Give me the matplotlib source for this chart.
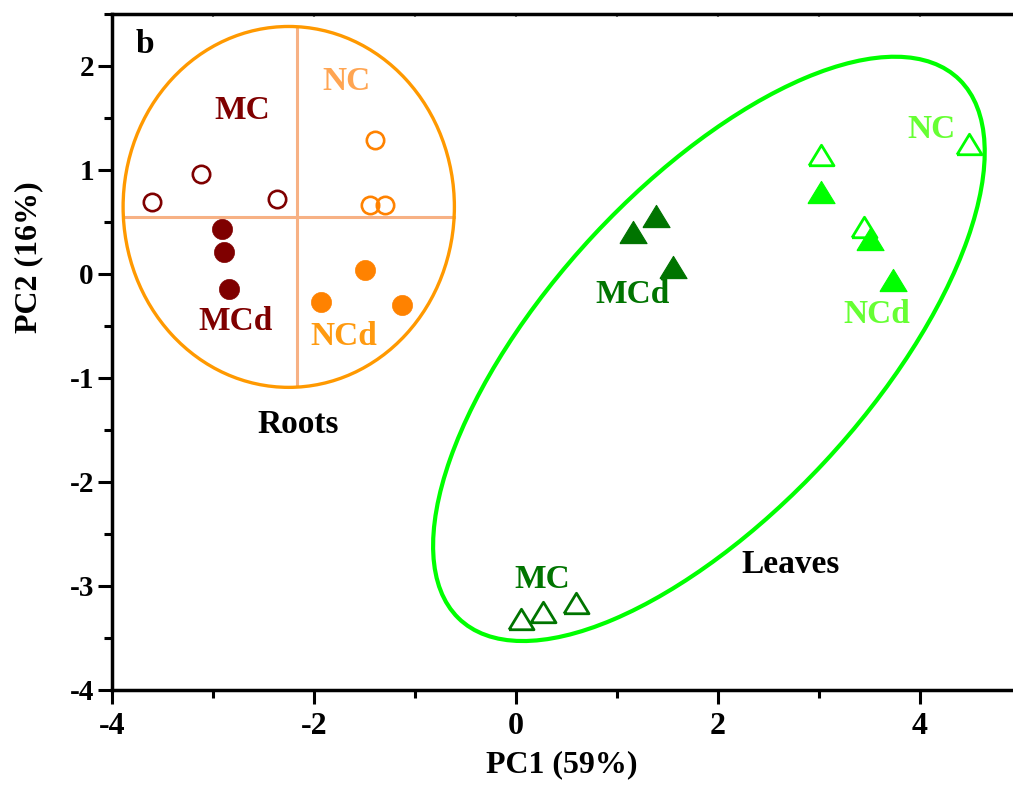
import matplotlib
matplotlib.use('Agg')
import matplotlib.pyplot as plt
from matplotlib.patches import Ellipse
from matplotlib.ticker import MultipleLocator

plt.rcParams['font.family'] = ['Liberation Serif', 'DejaVu Serif']
plt.rcParams['font.weight'] = 'bold'
plt.rcParams['axes.unicode_minus'] = False

# -----------------------------
# PCA scores
# Roots
roots_mc_x = [-3.60, -3.12, -2.37]
roots_mc_y = [0.69, 0.96, 0.72]
roots_mcd_x = [-2.91, -2.89, -2.84]
roots_mcd_y = [0.43, 0.21, -0.14]
roots_nc_x = [-1.40, -1.45, -1.30]
roots_nc_y = [1.29, 0.66, 0.66]
roots_ncd_x = [-1.50, -1.93, -1.13]
roots_ncd_y = [0.04, -0.27, -0.30]

# Leaves
leaves_mc_x = [0.05, 0.27, 0.59]
leaves_mc_y = [-3.32, -3.25, -3.16]
leaves_mcd_x = [1.16, 1.39, 1.55]
leaves_mcd_y = [0.40, 0.56, 0.07]
leaves_nc_x = [3.02, 4.49, 3.45]
leaves_nc_y = [1.14, 1.25, 0.45]
leaves_ncd_x = [3.02, 3.50, 3.73]
leaves_ncd_y = [0.79, 0.34, -0.06]

# group outlines
roots_center = (-2.25, 0.645)
roots_size = (3.28, 3.47)
roots_cross_x = -2.17
roots_cross_y = 0.55
leaves_center = (1.91, -0.72)
leaves_size = (7.17, 3.16)
leaves_angle = 46.2

dark_red = '#7f0000'
orange = '#ff8200'
dark_green = '#007400'
lime = '#00ff00'

tri = [(-1, -0.82), (1, -0.82), (0, 0.82), (-1, -0.82)]

# -----------------------------
# Figure and axes
fig = plt.figure(figsize=(10.13, 7.88), dpi=100)
ax = fig.add_axes([112 / 1013, 98 / 788, 909 / 1013, 676 / 788])

# Roots group
ax.add_patch(Ellipse(roots_center, roots_size[0], roots_size[1], fill=False,
                     edgecolor='#ff9900', linewidth=2.4, zorder=2))
ax.plot([roots_center[0] - roots_size[0] / 2, roots_center[0] + roots_size[0] / 2],
        [roots_cross_y, roots_cross_y], color='#f7b184', linewidth=2.2, zorder=1)
ax.plot([roots_cross_x, roots_cross_x],
        [roots_center[1] - roots_size[1] / 2 + 0.01, roots_center[1] + roots_size[1] / 2 - 0.01],
        color='#f7b184', linewidth=2.2, zorder=1)

ax.plot(roots_mc_x, roots_mc_y, 'o', ms=12.5, mfc='white', mec=dark_red, mew=1.9, ls='none', zorder=3)
ax.plot(roots_mcd_x, roots_mcd_y, 'o', ms=14.5, mfc=dark_red, mec=dark_red, mew=0.5, ls='none', zorder=3)
ax.plot(roots_nc_x, roots_nc_y, 'o', ms=12.5, mfc='none', mec=orange, mew=1.9, ls='none', zorder=3)
ax.plot(roots_ncd_x, roots_ncd_y, 'o', ms=14.5, mfc=orange, mec=orange, mew=0.5, ls='none', zorder=3)

# Leaves group
ax.add_patch(Ellipse(leaves_center, leaves_size[0], leaves_size[1], angle=leaves_angle,
                     fill=False, edgecolor=lime, linewidth=3, zorder=2))

ax.plot(leaves_mc_x, leaves_mc_y, marker=tri, ms=18, mfc='white', mec=dark_green, mew=2, ls='none', zorder=3)
ax.plot(leaves_mcd_x, leaves_mcd_y, marker=tri, ms=19.5, mfc=dark_green, mec=dark_green, mew=0.8, ls='none', zorder=3)
ax.plot(leaves_nc_x, leaves_nc_y, marker=tri, ms=18, mfc='white', mec=lime, mew=2, ls='none', zorder=3)
ax.plot(leaves_ncd_x, leaves_ncd_y, marker=tri, ms=19.5, mfc=lime, mec=lime, mew=0.8, ls='none', zorder=4)

# -----------------------------
# Group labels
lab = dict(ha='center', va='center', fontsize=24, fontweight='bold')
ax.text(-3.67, 2.21, 'b', color='black', **lab)
ax.text(-2.71, 1.57, 'MC', color=dark_red, **lab)
ax.text(-1.68, 1.85, 'NC', color='#ffa552', **lab)
ax.text(-2.78, -0.46, 'MCd', color=dark_red, **lab)
ax.text(-1.70, -0.60, 'NCd', color='#ff9a10', **lab)
ax.text(-2.16, -1.45, 'Roots', color='black', **lab)

ax.text(0.26, -2.94, 'MC', color=dark_green, **lab)
ax.text(1.15, -0.20, 'MCd', color=dark_green, **lab)
ax.text(4.11, 1.39, 'NC', color='#66ff33', **lab)
ax.text(3.57, -0.385, 'NCd', color='#66ff33', **lab)
ax.text(2.72, -2.79, 'Leaves', color='black', **lab)

# -----------------------------
# Axes styling
ax.set_xlim(-4, 5)
ax.set_ylim(-4, 2.5)
ax.xaxis.set_major_locator(MultipleLocator(2))
ax.xaxis.set_minor_locator(MultipleLocator(1))
ax.yaxis.set_major_locator(MultipleLocator(1))
ax.yaxis.set_minor_locator(MultipleLocator(0.5))

for side in ['left', 'bottom', 'top', 'right']:
    ax.spines[side].set_linewidth(2.5)

ax.tick_params(axis='both', which='major', direction='out', length=10, width=2.2)
ax.tick_params(axis='both', which='minor', direction='out', length=6, width=2.2)
ax.tick_params(axis='x', labelsize=23, pad=6)
ax.tick_params(axis='y', labelsize=21, pad=3)
for t in ax.get_xticklabels() + ax.get_yticklabels():
    t.set_fontweight('bold')

# faint marks along the top frame
sec = ax.secondary_xaxis('top')
sec.xaxis.set_major_locator(MultipleLocator(1))
sec.tick_params(which='both', direction='in', length=2, width=1.5,
                color='#777777', labeltop=False)
sec.spines['top'].set_visible(False)

ax.set_xlabel('PC1 (59%)', fontsize=23, fontweight='bold', va='center')
ax.set_ylabel('PC2 (16%)', fontsize=23, fontweight='bold', va='center')
ax.xaxis.set_label_coords(0.495, -0.111)
ax.yaxis.set_label_coords(-0.092, 0.64)

fig.savefig('out.png', dpi=100)
